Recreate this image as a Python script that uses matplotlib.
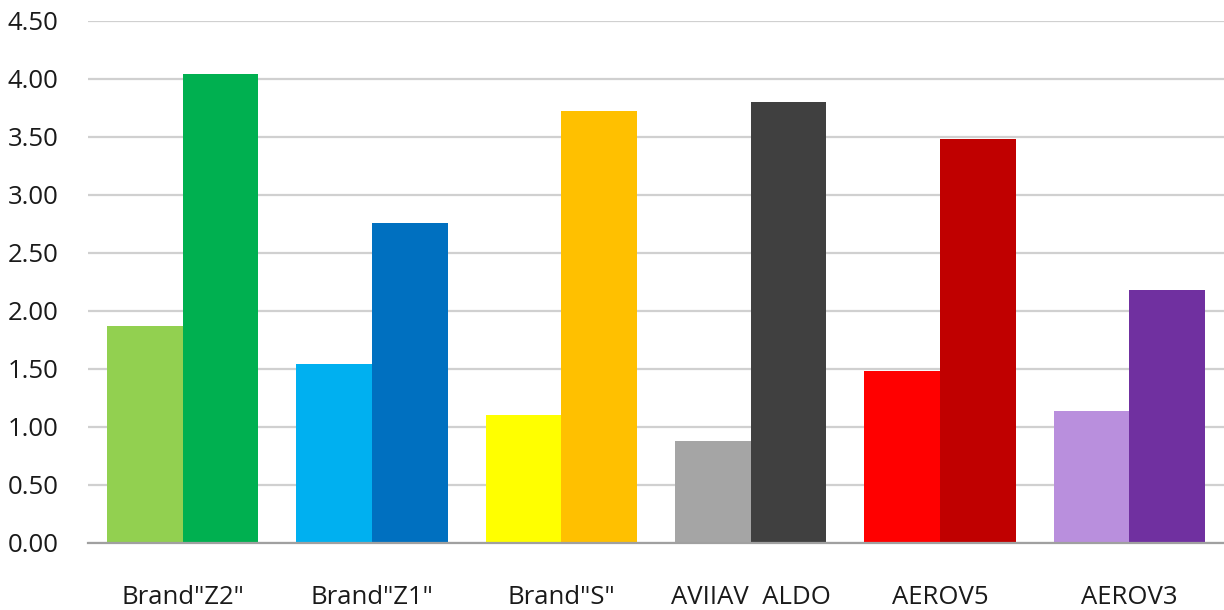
import matplotlib
matplotlib.use("Agg")
import matplotlib.pyplot as plt
import numpy as np

categories = ['Brand"Z2"', 'Brand"Z1"', 'Brand"S"', 'AVIIAV  ALDO', 'AEROV5', 'AEROV3']
series_a = [1.87, 1.54, 1.10, 0.88, 1.48, 1.14]
series_b = [4.04, 2.76, 3.72, 3.80, 3.48, 2.18]
colors_a = ['#92D050', '#00B0F0', '#FFFF00', '#A5A5A5', '#FF0000', '#B98FDD']
colors_b = ['#00B050', '#0070C0', '#FFC000', '#404040', '#C00000', '#7030A0']
yticks = [0.0, 0.5, 1.0, 1.5, 2.0, 2.5, 3.0, 3.5, 4.0, 4.5]

plt.rcParams['font.family'] = ['Open Sans', 'DejaVu Sans']

fig = plt.figure(figsize=(12.24, 6.10), dpi=100)
ax = fig.add_axes([88 / 1224, 67 / 610, 1 - 88 / 1224, 522 / 610])

x = np.arange(len(categories))
w = 0.4
ax.bar(x - w / 2, series_a, width=w, color=colors_a, zorder=3)
ax.bar(x + w / 2, series_b, width=w, color=colors_b, zorder=3)

ax.set_xlim(-0.5, len(categories) - 0.5)
ax.set_ylim(0, 4.5)
ax.set_yticks(yticks)
ax.set_yticklabels([f"{v:.2f}" for v in yticks])
ax.set_xticks(x)
ax.set_xticklabels(categories)

ax.yaxis.grid(True, color='#D0D0D0', linewidth=1.6, zorder=0)
ax.set_axisbelow(True)
for s in ['top', 'right', 'left']:
    ax.spines[s].set_visible(False)
ax.spines['bottom'].set_color('#A0A0A0')
ax.spines['bottom'].set_linewidth(1.6)
ax.spines['bottom'].set_zorder(4)

ax.tick_params(axis='y', length=0, pad=21, labelsize=18.5, labelcolor='#1a1a1a')
ax.tick_params(axis='x', length=0, pad=30, labelsize=18.5, labelcolor='#1a1a1a')

fig.savefig("out.png", dpi=100)
